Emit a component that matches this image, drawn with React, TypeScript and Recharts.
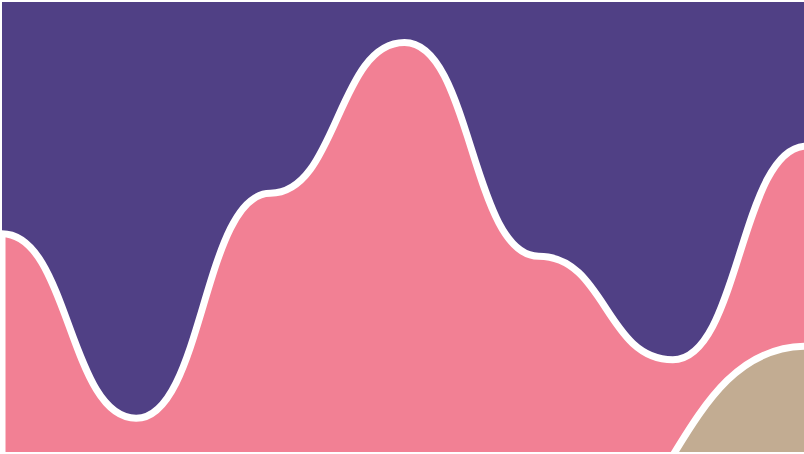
import { Area, AreaChart, ReferenceLine, XAxis, YAxis } from "recharts";

// Seven evenly spaced slots; the chart is cropped a few px past the last one.
const slots = ["s1", "s2", "s3", "s4", "s5", "s6", "s7"];
const ceilingValues = [100, 100, 100, 100, 100, 100, 100];
const roseValues = [48.5, 7.5, 57.5, 91, 43.5, 20.5, 68];
// sand only climbs into view at the end; the gap is bridged with connectNulls
const sandValues: (number | null)[] = [null, null, null, null, -25, null, 23.5];

const PURPLE = "#504085";
const ROSE = "#f28094";
const SAND = "#c2ac92";

const rows = slots.map((slot, i) => ({
  slot,
  ceiling: ceilingValues[i],
  rose: roseValues[i],
  sand: sandValues[i],
}));

export default function App() {
  return (
    <div
      style={{
        position: "fixed",
        left: 0,
        top: 0,
        width: 804,
        height: 454,
        overflow: "hidden",
        background: "#fff",
      }}
    >
      <AreaChart width={807} height={454} data={rows} margin={{ top: 2, right: 0, bottom: 2, left: 2 }}>
        <XAxis dataKey="slot" hide />
        <YAxis hide domain={[0, 100]} allowDataOverflow />
        <Area
          type="bumpX"
          dataKey="ceiling"
          fill={PURPLE}
          fillOpacity={1}
          stroke="none"
          isAnimationActive={false}
        />
        <Area
          type="bumpX"
          dataKey="rose"
          fill={ROSE}
          fillOpacity={1}
          stroke="#fff"
          strokeWidth={7}
          isAnimationActive={false}
        />
        <Area
          type="bumpX"
          dataKey="sand"
          fill={SAND}
          fillOpacity={1}
          stroke="#fff"
          strokeWidth={7}
          connectNulls
          isAnimationActive={false}
        />
        <ReferenceLine
          segment={[
            { x: slots[0], y: roseValues[0] },
            { x: slots[0], y: 0 },
          ]}
          stroke="#fff"
          strokeWidth={7}
        />
      </AreaChart>
    </div>
  );
}
